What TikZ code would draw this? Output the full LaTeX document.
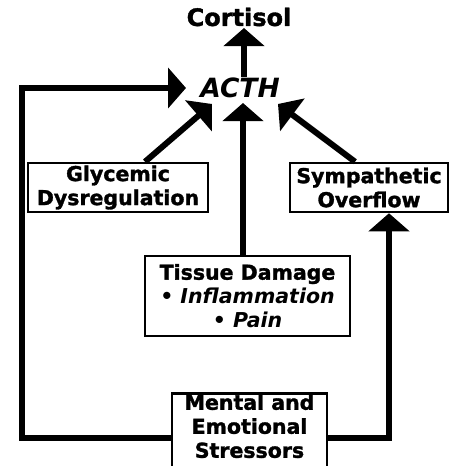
\documentclass[tikz,border=0pt]{standalone}
\usepackage{fontspec}
\setmainfont{DejaVu Sans}[BoldFeatures={FakeBold=1.5}]
\usetikzlibrary{arrows.meta}
\begin{document}
\begin{tikzpicture}[x=1pt,y=-1pt,
  lbl/.style={font=\bfseries\fontsize{20.5}{24}\selectfont, align=center, inner sep=1pt},
  box/.style={lbl, draw, line width=2.5pt, inner sep=0pt},
  arr/.style={line width=6pt, -{Triangle[width=40pt,length=18pt]}},
  loopline/.style={line width=6pt}]
\clip (0,0) rectangle (466,466);
\fill[white] (0,0) rectangle (466,466);
\node[lbl, font=\bfseries\fontsize{24}{24}\selectfont] (cort) at (239,17) {Cortisol};
\node[lbl, font=\bfseries\itshape\fontsize{26.5}{28}\selectfont] (acth) at (240,88) {ACTH};
\node[box, minimum width=180pt, minimum height=49pt] (gly) at (118,187.5) {Glycemic\\Dysregulation};
\node[box, minimum width=158pt, minimum height=49pt] (sym) at (369,187.5) {Sympathetic\\Overflow};
\node[box, minimum width=205pt, minimum height=80pt] (tis) at (247.5,296) {Tissue Damage\\{\itshape • Inflammation}\\{\itshape • Pain}};
\node[box, minimum width=155pt, minimum height=90pt, anchor=north] (men) at (249.5,392) {};
\node[lbl, anchor=north] (mentxt) at (249.5,393) {Mental and\\Emotional\\Stressors};
\coordinate (lt) at (22,88);
\coordinate (lb) at (22,438);
\coordinate (rb) at (389,438);
\coordinate (tipL) at (186,88);
\coordinate (tipC) at (244,28);
\coordinate (tipM) at (243,103);
\coordinate (tipG) at (212,104);
\coordinate (tipS) at (278,104);
\draw[arr] (acth.north -| tipC) -- (tipC);
\draw[arr, line join=miter] (men.west |- lb) -- (lb) -- (lt) -- (tipL);
\draw[arr, line join=miter] (men.east |- rb) -- (rb) -- (sym.south -| rb);
\draw[arr] (tis.north -| tipM) -- (tipM);
\draw[arr] ([xshift=27pt]gly.north) -- (tipG);
\draw[arr] ([xshift=-14pt]sym.north) -- (tipS);
\end{tikzpicture}
\end{document}
